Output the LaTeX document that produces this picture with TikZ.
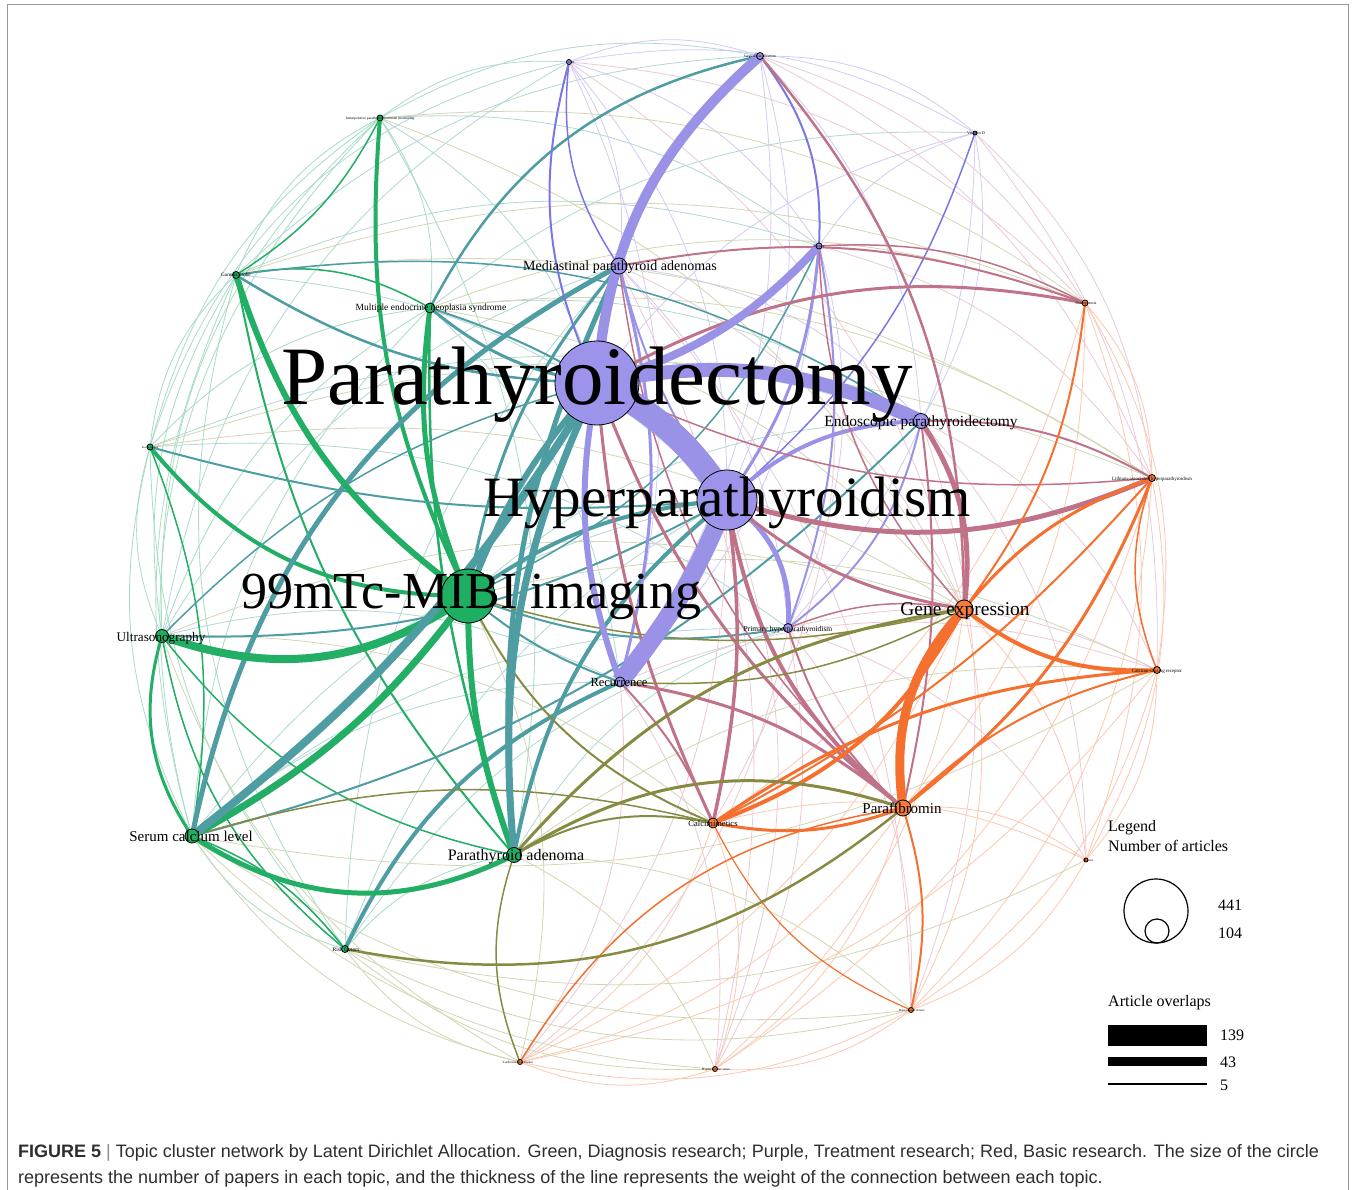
\documentclass[tikz,border=0pt]{standalone}
\usepackage{fontspec}
\setmainfont{Liberation Serif}
\newfontfamily\capfont{Liberation Sans}
\definecolor{qg}{HTML}{22AE64}
\definecolor{qgl}{HTML}{A6DCC2}
\definecolor{qt}{HTML}{4E9DA2}
\definecolor{qtl}{HTML}{B0D8D4}
\definecolor{qp}{HTML}{9A92E6}
\definecolor{qpd}{HTML}{7C76E4}
\definecolor{qpl}{HTML}{D0CCF5}
\definecolor{qm}{HTML}{C07289}
\definecolor{qml}{HTML}{EACAD5}
\definecolor{qo}{HTML}{F5702F}
\definecolor{qol}{HTML}{FCC8B0}
\definecolor{qv}{HTML}{878B42}
\definecolor{qvl}{HTML}{D3D6B2}
\definecolor{ndg}{HTML}{1FAF63}
\definecolor{ndp}{HTML}{9C94EA}
\definecolor{ndo}{HTML}{F47C3C}
\newcommand\mylk[4][20]{\draw[draw=#2] (#3) to[bend left=#1] (#4);}
\newcommand\mylw[5][20]{\draw[draw=#2, line width=#3pt] (#4) to[bend left=#1] (#5);}
\tikzset{
  nd/.style={circle, draw=black, line width=0.8pt, inner sep=0pt, minimum size=#1pt},
  lab/.style={anchor=base, text=black, inner sep=0pt, font=\fontsize{#1}{#1}\selectfont},
  leg/.style={anchor=base west, text=black, inner sep=0pt, font=\fontsize{16}{16}\selectfont},
  capt/.style={anchor=base west, inner sep=0pt, text=black!82, font=\capfont\fontsize{18}{20}\selectfont}
}
\begin{document}
\begin{tikzpicture}[x=1pt,y=1pt]
\useasboundingbox (0,0) rectangle (1353,-1190);
\fill[white] (0,0) rectangle (1353,-1190);
\draw[black!40, line width=1pt] (7,-1190) -- (7,-5) -- (1348,-5) -- (1348,-1190);
% positions
\coordinate (PX) at (597,-383);
\coordinate (HY) at (727,-500);
\coordinate (MI) at (468,-596);
\coordinate (MED) at (619,-266);
\coordinate (MEN) at (430,-308);
\coordinate (END) at (921,-421);
\coordinate (GE) at (964,-609);
\coordinate (PH) at (788,-628);
\coordinate (US) at (162,-636);
\coordinate (REC) at (620,-682);
\coordinate (SC) at (192,-836);
\coordinate (PA) at (514,-855);
\coordinate (CAL) at (713,-823);
\coordinate (PF) at (903,-808);
\coordinate (RF) at (345,-949);
\coordinate (LI) at (1152,-478);
\coordinate (CSR) at (1157,-670);
\coordinate (GP) at (236,-275);
\coordinate (FS) at (150,-447);
\coordinate (IO) at (380,-118);
\coordinate (T1) at (569,-62);
\coordinate (T2) at (760,-56);
\coordinate (T3) at (975,-133);
\coordinate (T4) at (819,-246);
\coordinate (T5) at (1085,-303);
\coordinate (B1) at (1086,-860);
\coordinate (B2) at (911,-1010);
\coordinate (B3) at (520,-1062);
\coordinate (B4) at (715,-1069);
% ---------- light edges ----------
\begin{scope}[line width=0.8pt]
\mylk{qgl}{US}{FS}\mylk{qgl}{US}{GP}\mylk[25]{qgl}{US}{IO}\mylk{qgl}{FS}{GP}\mylk{qgl}{FS}{IO}
\mylk{qgl}{GP}{IO}\mylk{qgl}{SC}{FS}\mylk{qgl}{RF}{US}\mylk{qgl}{RF}{FS}\mylk[25]{qgl}{RF}{GP}
\mylk{qgl}{SC}{GP}\mylk[30]{qgl}{SC}{IO}\mylk{qgl}{RF}{SC}\mylk{qgl}{US}{MEN}\mylk{qgl}{FS}{MEN}
\mylk{qgl}{GP}{MEN}\mylk{qgl}{IO}{MEN}\mylk{qgl}{RF}{PA}\mylk[-20]{qgl}{MEN}{SC}\mylk{qgl}{IO}{PA}
\mylk[30]{qtl}{FS}{T1}\mylk[25]{qtl}{US}{T1}\mylk{qtl}{IO}{T1}\mylk{qtl}{IO}{T2}\mylk{qtl}{GP}{T2}
\mylk{qtl}{IO}{PX}\mylk{qtl}{GP}{HY}\mylk{qtl}{FS}{PH}\mylk{qtl}{US}{REC}\mylk{qtl}{SC}{HY}
\mylk{qtl}{RF}{HY}\mylk{qtl}{US}{MED}\mylk{qtl}{MEN}{END}\mylk{qtl}{GP}{END}\mylk{qtl}{FS}{END}
\mylk{qtl}{MEN}{T3}\mylk{qtl}{SC}{REC}\mylk{qtl}{PA}{PH}\mylk{qtl}{MI}{END}\mylk{qtl}{MEN}{REC}
\mylk{qtl}{RF}{MED}\mylk{qtl}{IO}{T4}\mylk{qtl}{GP}{T4}\mylk{qtl}{RF}{PH}\mylk{qtl}{SC}{PH}
\mylk{qpl}{T1}{T2}\mylk{qpl}{T1}{T3}\mylk{qpl}{T2}{T3}\mylk{qpl}{T1}{T4}\mylk{qpl}{PX}{T3}
\mylk{qpl}{T3}{END}\mylk{qpl}{T1}{MED}\mylk{qpl}{T2}{HY}\mylk{qpl}{T4}{REC}\mylk{qpl}{MED}{PH}
\mylk{qpl}{T1}{REC}\mylk{qpl}{T3}{PH}\mylk{qpl}{T2}{END}\mylk{qpl}{T4}{PH}\mylk{qpl}{T1}{HY}
\mylk{qpl}{T2}{REC}\mylk[-20]{qpl}{T3}{T4}\mylk{qpl}{MED}{END}
\mylk{qml}{T1}{T5}\mylk{qml}{T2}{T5}\mylk{qml}{T1}{GE}\mylk{qml}{MED}{GE}\mylk{qml}{REC}{CSR}
\mylk{qml}{PH}{CSR}\mylk{qml}{PH}{B1}\mylk{qml}{END}{B1}\mylk{qml}{T4}{LI}\mylk{qml}{T3}{LI}
\mylk{qml}{T3}{CSR}\mylk{qml}{END}{CSR}\mylk{qml}{T4}{CAL}\mylk{qml}{HY}{B3}\mylk{qml}{MED}{B2}
\mylk{qml}{REC}{B4}\mylk{qml}{PH}{B4}\mylk{qml}{REC}{B3}\mylk{qml}{HY}{B4}\mylk{qml}{PH}{B2}
\mylk{qml}{END}{B2}\mylk{qml}{T2}{LI}\mylk{qml}{PH}{B3}\mylk{qml}{MED}{B4}
\mylk{qol}{T5}{LI}\mylk{qol}{CSR}{B1}\mylk{qol}{LI}{B1}\mylk{qol}{T5}{B1}\mylk{qol}{B1}{B2}
\mylk{qol}{CSR}{B2}\mylk{qol}{LI}{B2}\mylk{qol}{B2}{B4}\mylk{qol}{B2}{B3}\mylk{qol}{B4}{B3}
\mylk{qol}{GE}{B1}\mylk{qol}{PF}{B1}\mylk{qol}{GE}{B2}\mylk{qol}{CAL}{B3}\mylk{qol}{CAL}{B4}
\mylk{qol}{PF}{B3}\mylk{qol}{PF}{B4}\mylk{qol}{T5}{CSR}\mylk{qol}{T5}{PF}\mylk{qol}{T5}{CAL}
\mylk{qol}{GE}{B4}\mylk{qol}{CAL}{B1}\mylk{qol}{GE}{B3}\mylk{qol}{LI}{B4}\mylk{qol}{CSR}{B3}
\mylk{qvl}{IO}{T5}\mylk{qvl}{GP}{T5}\mylk{qvl}{MEN}{T5}\mylk{qvl}{FS}{LI}\mylk{qvl}{GP}{LI}
\mylk{qvl}{MEN}{LI}\mylk{qvl}{B3}{SC}\mylk{qvl}{B4}{SC}\mylk{qvl}{B2}{SC}\mylk{qvl}{B4}{RF}
\mylk{qvl}{B2}{RF}\mylk{qvl}{B3}{RF}\mylk{qvl}{B3}{US}\mylk{qvl}{FS}{GE}\mylk{qvl}{US}{GE}
\mylk{qvl}{MI}{CSR}\mylk{qvl}{PA}{B2}\mylk{qvl}{US}{CAL}\mylk{qvl}{MI}{B3}\mylk{qvl}{PA}{B4}
\mylk{qvl}{MEN}{GE}\mylk{qvl}{B1}{RF}\mylk{qvl}{CSR}{SC}\mylk{qvl}{PA}{CSR}\mylk{qvl}{IO}{GE}
\end{scope}
% ---------- medium edges ----------
\mylw[-15]{qg}{1.5}{RF}{SC}\mylw[20]{qg}{1.5}{RF}{US}\mylw[25]{qg}{3}{SC}{US}
\mylw[-15]{qg}{2}{GP}{PA}\mylw[-10]{qg}{2.5}{MEN}{PA}\mylw[-20]{qg}{1.5}{US}{PA}
\mylw[15]{qg}{1.5}{FS}{SC}\mylw[-15]{qg}{4}{IO}{MI}\mylw[20]{qg}{1.5}{GP}{MEN}
\mylw[-25]{qg}{4}{FS}{MI}\mylw[15]{qg}{1.5}{IO}{GP}
\mylw[25]{qt}{2.5}{MEN}{T2}\mylw[-15]{qt}{2.5}{GP}{PX}\mylw[15]{qt}{2}{MEN}{HY}
\mylw[-10]{qt}{2}{FS}{HY}\mylw[15]{qt}{1.5}{US}{PX}\mylw[-15]{qt}{2}{MI}{PH}
\mylw[15]{qt}{4}{MI}{HY}\mylw[20]{qt}{4}{PA}{HY}\mylw[20]{qt}{4}{RF}{REC}
\mylw[-25]{qt}{5}{MED}{SC}\mylw[15]{qt}{5}{PA}{MED}\mylw[-10]{qt}{2}{MI}{REC}
\mylw[20]{qt}{1.5}{GP}{END}\mylw[-15]{qt}{2}{US}{HY}\mylw[-15]{qt}{3}{MEN}{PX}
\mylw[-15]{qt}{3}{MED}{MI}\mylw[20]{qt}{1.5}{T4}{MI}\mylw[-15]{qt}{2}{SC}{END}
\mylw[20]{qpd}{2}{T2}{T4}\mylw[-20]{qpd}{1.5}{T1}{MED}\mylw[-20]{qpd}{2}{T1}{PX}
\mylw[15]{qpd}{1.5}{T3}{HY}\mylw[-15]{qpd}{1.5}{T2}{MED}
\mylw[10]{qp}{6}{PX}{MED}\mylw[20]{qp}{4}{HY}{END}\mylw[-15]{qp}{3}{HY}{T4}
\mylw[15]{qp}{3}{MED}{REC}\mylw[-20]{qp}{2}{PH}{END}\mylw[10]{qp}{2}{HY}{MED}
\mylw[30]{qp}{5}{HY}{PH}\mylw[15]{qp}{2}{T4}{PH}
\mylw[-20]{qm}{5}{HY}{LI}\mylw[20]{qm}{5}{END}{GE}\mylw[10]{qm}{3.5}{HY}{CAL}
\mylw[-20]{qm}{4}{HY}{PF}\mylw[-15]{qm}{3}{PX}{PF}\mylw[20]{qm}{3}{PX}{T5}
\mylw[20]{qm}{2.5}{T2}{GE}\mylw[-15]{qm}{3}{HY}{GE}\mylw[15]{qm}{3}{REC}{PF}
\mylw[15]{qm}{2}{MED}{T5}\mylw[-15]{qm}{2}{PH}{PF}\mylw[10]{qm}{2}{END}{PF}
\mylw[-10]{qm}{3}{PX}{CAL}\mylw[10]{qm}{2}{REC}{CAL}\mylw[15]{qm}{2}{END}{LI}
\mylw[-15]{qm}{1.5}{PX}{LI}\mylw[15]{qm}{1.5}{PH}{GE}\mylw[15]{qm}{1.5}{T4}{T5}
\mylw[-20]{qm}{1.5}{MED}{PF}\mylw[-20]{qm}{1.5}{T4}{GE}
\mylw[-20]{qo}{4}{GE}{CSR}\mylw[15]{qo}{3}{GE}{LI}\mylw[-20]{qo}{4}{CAL}{GE}
\mylw[-15]{qo}{3}{CAL}{PF}\mylw[15]{qo}{3}{CAL}{CSR}\mylw[-15]{qo}{3}{PF}{LI}
\mylw[-10]{qo}{2}{CAL}{LI}\mylw[15]{qo}{2}{PF}{CSR}\mylw[-15]{qo}{2}{GE}{T5}
\mylw[15]{qo}{2}{PF}{B2}\mylw[25]{qo}{1.5}{B3}{PF}\mylw[-20]{qo}{1.5}{LI}{CSR}
\mylw[-20]{qo}{1.2}{CAL}{B2}
\mylw[20]{qv}{3}{PA}{GE}\mylw[25]{qv}{3}{PA}{PF}\mylw[-25]{qv}{2.5}{RF}{PF}
\mylw[20]{qv}{2}{PA}{CAL}\mylw[-15]{qv}{1.5}{MI}{GE}\mylw[-20]{qv}{2}{MI}{CAL}
\mylw[-20]{qv}{1.5}{PA}{B3}\mylw[15]{qv}{1.5}{SC}{CAL}\mylw[-15]{qv}{1.5}{REC}{GE}
% ---------- thick edges ----------
\mylw[-27]{qg}{8}{US}{MI}
\mylw[-12]{qg}{7}{SC}{MI}
\mylw[-18]{qg}{6}{GP}{MI}
\mylw[-15]{qg}{5}{MEN}{MI}
\mylw[-10]{qg}{6}{MI}{PA}
\mylw[-30]{qg}{5}{SC}{PA}
\mylw[-10]{qt}{8}{SC}{PX}
\mylw[15]{qt}{7}{PA}{PX}
\mylw[10]{qt}{6}{MI}{PX}
\mylw[-15]{qp}{6}{PX}{REC}
\mylw[-15]{qp}{8}{PX}{T4}
\mylw[22]{qp}{10}{PX}{T2}
\mylw[18]{qp}{14}{PX}{END}
\mylw[8]{qp}{18}{HY}{REC}
\mylw[15]{qp}{24}{PX}{HY}
\mylw[-25]{qo}{9}{GE}{PF}
% ---------- nodes ----------
\node[nd=84, fill=ndp] (PXc) at (PX) {};
\node[nd=60, fill=ndp] (HYc) at (HY) {};
\node[nd=54, fill=ndg] (MIc) at (MI) {};
\node[nd=16, fill=ndp] (MEDc) at (MED) {};
\node[nd=10, fill=ndg] (MENc) at (MEN) {};
\node[nd=15, fill=ndp] (ENDc) at (END) {};
\node[nd=18, fill=ndo] (GEc) at (GE) {};
\node[nd=9, fill=ndp] (PHc) at (PH) {};
\node[nd=13, fill=ndg] (USc) at (US) {};
\node[nd=10, fill=ndp] (RECc) at (REC) {};
\node[nd=14, fill=ndg] (SCc) at (SC) {};
\node[nd=15, fill=ndg] (PAc) at (PA) {};
\node[nd=10, fill=ndo] (CALc) at (CAL) {};
\node[nd=16, fill=ndo] (PFc) at (PF) {};
\node[nd=7, fill=ndg] (RFc) at (RF) {};
\node[nd=7, fill=ndo] (LIc) at (LI) {};
\node[nd=7, fill=ndo] (CSRc) at (CSR) {};
\node[nd=7, fill=ndg] (GPc) at (GP) {};
\node[nd=6, fill=ndg] (FSc) at (FS) {};
\node[nd=6, fill=ndg] (IOc) at (IO) {};
\node[nd=5, fill=ndp] (T1c) at (T1) {};
\node[nd=7, fill=ndp] (T2c) at (T2) {};
\node[nd=4, fill=ndp] (T3c) at (T3) {};
\node[nd=6, fill=ndp] (T4c) at (T4) {};
\node[nd=6, fill=ndo] (T5c) at (T5) {};
\node[nd=4, fill=ndo] (B1c) at (B1) {};
\node[nd=5, fill=ndo] (B2c) at (B2) {};
\node[nd=5, fill=ndo] (B3c) at (B3) {};
\node[nd=5, fill=ndo] (B4c) at (B4) {};
% ---------- labels ----------
\node[lab=83] (PXl) at (597,-405) {Parathyroidectomy};
\node[lab=57] (HYl) at (727,-516) {Hyperparathyroidism};
\node[lab=52] (MIl) at (471,-608) {99mTc-MIBI imaging};
\node[lab=14] (MEDl) at (620,-271) {Mediastinal parathyroid adenomas};
\node[lab=9.5] (MENl) at (431,-311) {Multiple endocrine neoplasia syndrome};
\node[lab=15.5] (ENDl) at (921,-426) {Endoscopic parathyroidectomy};
\node[lab=19.5] (GEl) at (965,-615) {Gene expression};
\node[lab=7.5] (PHl) at (788,-631) {Primary hyperparathyroidism};
\node[lab=13.2] (USl) at (161,-641) {Ultrasonography};
\node[lab=12.5] (RECl) at (619,-686) {Recurrence};
\node[lab=15] (SCl) at (191,-841) {Serum calcium level};
\node[lab=16] (PAl) at (516,-860) {Parathyroid adenoma};
\node[lab=8.5] (CALl) at (713,-826) {Calcimimetics};
\node[lab=15] (PFl) at (902,-813) {Parafibromin};
\node[lab=5.6] (RFl) at (346,-951) {Risk factors};
\node[lab=4.9] (LIl) at (1152,-480) {Lithium-associated hyperparathyroidism};
\node[lab=4.9] (CSRl) at (1157,-672) {Calcium-sensing receptor};
\node[lab=5.2] (GPl) at (236,-277) {Gamma probe};
\node[lab=2.8] (FSl) at (150,-448.5) {Frozen section};
\node[lab=3.6] (IOl) at (380,-119.5) {Intraoperative parathyroid hormone monitoring};
\node[lab=3.5] (T1l) at (571,-63.5) {Cost};
\node[lab=3.5] (T2l) at (760,-57.5) {Surgical complications};
\node[lab=4.2] (T3l) at (976,-134.5) {Vitamin D};
\node[lab=3.5] (T4l) at (819,-247.5) {Surgery};
\node[lab=4] (T5l) at (1086,-304.5) {Osteoporosis};
\node[lab=3] (B1l) at (1088,-861) {Genetics};
\node[lab=3] (B2l) at (912,-1011) {Bone mineral density};
\node[lab=3.3] (B3l) at (518,-1063) {Cardiovascular disease};
\node[lab=3.3] (B4l) at (716,-1070) {Hypercalcemic crisis};
% ---------- legend ----------
\node[leg] (lg1) at (1108,-831) {Legend};
\node[leg] (lg2) at (1108,-851) {Number of articles};
\node[circle, draw=black, line width=1.2pt, minimum size=64pt, inner sep=0pt] (lgc1) at (1156,-911) {};
\node[circle, draw=black, line width=1.2pt, minimum size=24pt, inner sep=0pt] (lgc2) at (1157,-931) {};
\node[leg] (lg3) at (1218,-910) {441};
\node[leg] (lg4) at (1218,-938) {104};
\node[leg] (lg5) at (1108,-1006) {Article overlaps};
\fill[black] (1108,-1025) rectangle (1207,-1046);
\fill[black] (1108,-1057) rectangle (1207,-1066);
\draw[black, line width=1.3pt] (1108,-1084) -- (1207,-1084);
\node[leg] (lg6) at (1220,-1040) {139};
\node[leg] (lg7) at (1220,-1067) {43};
\node[leg] (lg8) at (1220,-1090) {5};
% ---------- caption ----------
\node[capt] (cap1) at (18,-1157) {\textbf{FIGURE 5} {\color{black!45}|} Topic cluster network by Latent Dirichlet Allocation. Green, Diagnosis research; Purple, Treatment research; Red, Basic research. The size of the circle};
\node[capt] (cap2) at (18,-1183) {represents the number of papers in each topic, and the thickness of the line represents the weight of the connection between each topic.};
\end{tikzpicture}
\end{document}
